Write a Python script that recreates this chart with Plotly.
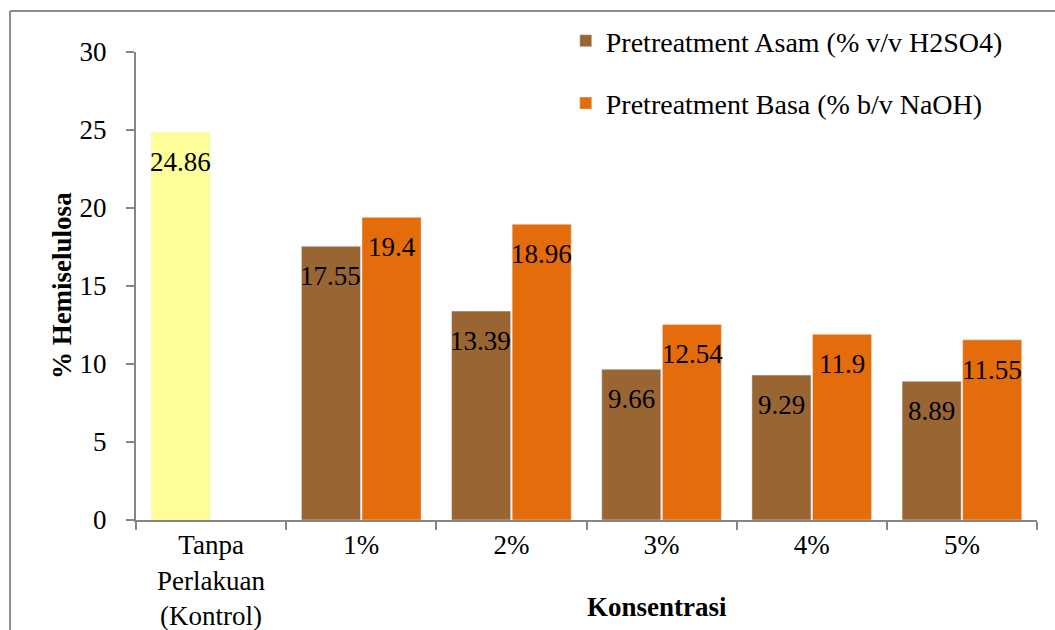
import plotly.graph_objects as go

categories = ["Tanpa<br>Perlakuan<br>(Kontrol)", "1%", "2%", "3%", "4%", "5%"]
control_value = [24.86]
asam_values = [17.55, 13.39, 9.66, 9.29, 8.89]
basa_values = [19.4, 18.96, 12.54, 11.9, 11.55]
y_ticks = [0, 5, 10, 15, 20, 25, 30]

FONT = "Liberation Serif"
FS = 27
GRAY = "#868686"
BROWN = "#996633"
ORANGE = "#E46C0A"
YELLOW = "#FFFF99"

fig = go.Figure()
fig.add_trace(go.Bar(x=categories[:1], y=control_value, marker_color=YELLOW,
                     offsetgroup="a", showlegend=False, name="Kontrol",
                     legendgroup="k"))
fig.add_trace(go.Bar(x=categories[1:], y=asam_values, marker_color=BROWN,
                     offsetgroup="a", name="Pretreatment Asam (% v/v H2SO4)",
                     legendgroup="a"))
fig.add_trace(go.Bar(x=categories[1:], y=basa_values, marker_color=ORANGE,
                     offsetgroup="b", name="Pretreatment Basa (% b/v NaOH)",
                     legendgroup="b"))

ann = []
def lab(x, v, dx):
    ann.append(dict(x=x, y=v, xref="x", yref="y", text=f"{v:g}", showarrow=False,
                    xshift=dx, yshift=-30, yanchor="middle",
                    font=dict(family=FONT, size=FS, color="black")))
lab(categories[0], control_value[0], -30.5)
for c, v in zip(categories[1:], asam_values):
    lab(c, v, -30.5)
for c, v in zip(categories[1:], basa_values):
    lab(c, v, 30.5)

ann.append(dict(x=-0.082, y=0.5, xref="paper", yref="paper", text="<b>% Hemiselulosa</b>",
                textangle=-90, showarrow=False, xanchor="center", yanchor="middle",
                font=dict(family=FONT, size=FS, color="black")))
ann.append(dict(x=0.578, y=-0.186, xref="paper", yref="paper", text="<b>Konsentrasi</b>",
                showarrow=False, xanchor="center", yanchor="middle",
                font=dict(family=FONT, size=FS, color="black")))

shapes = [
    dict(type="line", xref="paper", yref="paper", x0=-0.1398, x1=-0.1398, y0=-0.3, y1=1.0876,
         line=dict(color="#8c8c8c", width=2)),
    dict(type="line", xref="paper", yref="paper", x0=-0.1398, x1=1.1, y0=1.0876, y1=1.0876,
         line=dict(color="#8c8c8c", width=2)),
]

fig.update_layout(
    width=1055, height=630,
    margin=dict(l=136, r=18, t=52, b=110, autoexpand=False),
    paper_bgcolor="white", plot_bgcolor="white",
    barmode="group", bargap=0.193, bargroupgap=0.025,
    font=dict(family=FONT, size=FS, color="black"),
    annotations=ann, shapes=shapes,
    legend=dict(x=0.477, y=1.077, xanchor="left", yanchor="top",
                font=dict(family=FONT, size=28, color="black"),
                tracegroupgap=23, bgcolor="rgba(0,0,0,0)"),
    xaxis=dict(type="category", tickson="boundaries", ticks="outside", ticklen=8,
               tickcolor=GRAY, tickwidth=2, showline=True, linecolor=GRAY, linewidth=2,
               showgrid=False, zeroline=False, automargin=False,
               tickfont=dict(family=FONT, size=FS, color="black")),
    yaxis=dict(range=[0, 30], tickvals=y_ticks, ticks="outside", ticklen=8,
               tickcolor=GRAY, tickwidth=2, showline=True, linecolor=GRAY, linewidth=2,
               showgrid=False, zeroline=False, automargin=False, ticklabelstandoff=14,
               tickfont=dict(family=FONT, size=FS, color="black")),
)

fig.write_html("out.html")
